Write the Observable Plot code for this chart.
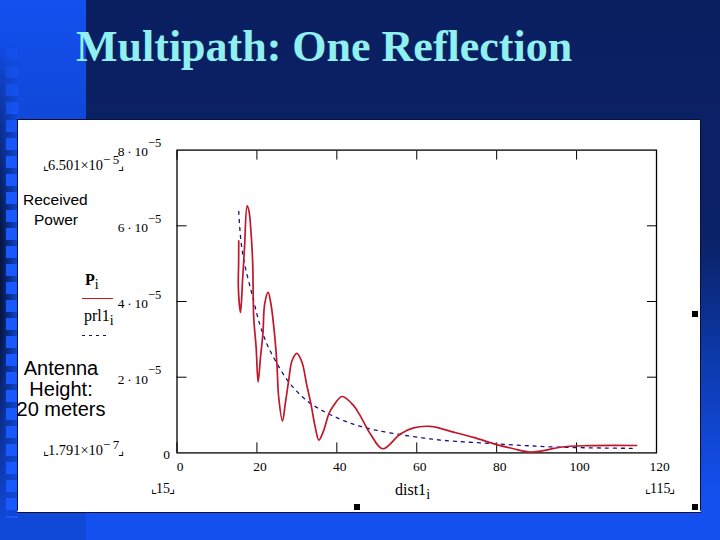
<!DOCTYPE html>
<html><head><meta charset="utf-8">
<script src="https://cdn.jsdelivr.net/npm/d3@7"></script>
<script src="https://cdn.jsdelivr.net/npm/@observablehq/plot@0.6"></script>
<style>
html,body{margin:0;padding:0;width:720px;height:540px;overflow:hidden;background:#1450f0}
#bg{position:absolute;left:0;top:0;width:720px;height:540px;background:linear-gradient(180deg,#0a1f60 0%,#0a2268 45%,#0d3bb0 68%,#1450f0 92%)}
#strip{position:absolute;left:0;top:0;width:86px;height:540px;background:linear-gradient(180deg,#1450f0 0%,#1048d8 22%,#1048d8 100%)}
#gutter{position:absolute;left:0;top:40px;width:20px;height:480px;background:linear-gradient(90deg,#06143f 0%,#0d3bb0 70%,#1450f0 100%);-webkit-mask-image:linear-gradient(180deg,transparent 0%,#000 40%,#000 60%,transparent 100%)}
#squares{position:absolute;left:6px;top:48px;width:12px;height:470px;background:repeating-linear-gradient(180deg,#1a58ff 0,#1a58ff 12px,transparent 12px,transparent 18px);-webkit-mask-image:linear-gradient(180deg,rgba(0,0,0,.25) 0,#000 22%)}
#title{position:absolute;left:76px;top:21px;font:bold 44px "Liberation Serif",serif;color:#90f0f0;white-space:nowrap}
#panel{position:absolute;left:16.5px;top:119px;width:682px;height:390px;background:#fff;border:1px solid #08103a;border-bottom:2px solid #fff;box-shadow:0 1px 0 #08103a}
#chart{position:absolute;left:0;top:0}
.t{position:absolute;white-space:nowrap;color:#000}
.s{font-family:"Liberation Serif",serif}
.a{font-family:"Liberation Sans",sans-serif}
sup,sub{line-height:0}
.c{margin:0 -1px;font-size:13px}
.h{position:absolute;width:6px;height:6px;background:#000}
.sw{position:absolute;left:82px;height:1px}
</style></head><body>
<div id="bg"></div><div id="strip"></div><div id="gutter"></div><div id="squares"></div>
<div id="title">Multipath: One Reflection</div>
<div id="panel"></div>
<div id="chart"></div>
<div class="t s" style="left:44px;top:157px;font-size:14.4px"><span class="c">⌞</span>6.501×10<sup style="font-size:13px">&#8722;&#8201;5</sup><span class="c">⌟</span></div>
<div class="t a" style="left:23px;top:191px;font-size:15.5px">Received</div>
<div class="t a" style="left:34px;top:211px;font-size:15.5px">Power</div>
<div class="t s" style="left:85px;top:271px;font-size:16px"><b>P</b><sub style="font-size:14px">i</sub></div>
<div class="sw" style="top:298px;width:31px;background:#d01818"></div>
<div class="t s" style="left:84px;top:307px;font-size:16px">prl1<sub style="font-size:14px">i</sub></div>
<div class="sw" style="top:335px;width:26px;background:repeating-linear-gradient(90deg,#101060 0,#101060 3px,transparent 3px,transparent 7px)"></div>
<div class="t a" style="left:15px;top:358px;width:92px;text-align:center;font-size:20px;line-height:20.5px">Antenna<br>Height:<br>20 meters</div>
<div class="t s" style="left:44px;top:442px;font-size:14.4px"><span class="c">⌞</span>1.791×10<sup style="font-size:13px">&#8722;&#8201;7</sup><span class="c">⌟</span></div>
<div class="t s" style="left:152px;top:481px;font-size:14px"><span class="c">⌞</span>15<span class="c">⌟</span></div>
<div class="t s" style="left:395px;top:481px;font-size:16px">dist1<sub style="font-size:14px">i</sub></div>
<div class="t s" style="left:646px;top:481px;font-size:14px"><span class="c">⌞</span>115<span class="c">⌟</span></div>
<div class="h" style="left:692px;top:311px"></div>
<div class="h" style="left:354px;top:504px"></div>
<div class="h" style="left:692px;top:504px"></div>
<script>
const receivedX = [15.45,15.42,15.35,15.9,16.4,16.9,17.55,18.0,18.55,18.95,19.2,19.8,20.3,20.9,21.5,21.95,22.8,23.5,24.4,25,25.45,26.4,27.1,27.95,28.8,30,31.3,32.4,33.5,34.6,35.5,36.7,38,39.2,41.3,44.2,45.7,48.4,51.5,55.9,59.2,63.4,69.2,74.2,80,84.2,88.4,91.7,95.9,102.5,115];
const receivedY = [56,50,43.7,37.1,45.5,54.3,65.3,64,57.9,50,35.8,27.9,18.7,25.3,31.5,39.4,42.4,39.4,31.5,23.6,14.7,8.4,13,19.1,24.4,26.3,23.9,18.3,13,6.8,3.4,5.9,10.3,12.5,14.9,12.5,10.1,5,1.1,5,6.6,7,5.5,4.1,2.2,1.1,0.2,0.6,1.5,1.9,1.95];
const directX = [15.45,16,16.9,19,20.7,22.5,24.6,28,32.5,38,45.9,63.4,80,96,115];
const directY = [63.8,56,50,41,34,28.8,24.4,18.7,13.8,10.3,7,3.7,2.4,1.5,1.2];
const xTicks = [0,20,40,60,80,100,120];
const yTicks = [2e-5,4e-5,6e-5,8e-5];
const yZero = [0];
const received = receivedX.map((x,i)=>({x,y:receivedY[i]*1e-6}));
const direct = directX.map((x,i)=>({x,y:directY[i]*1e-6}));
const mant = d => `${Math.round(d*1e5)}\u2009·\u200910`;
const serif = "Liberation Serif";
const chart = Plot.plot({
  width:720,height:540,marginLeft:176.5,marginRight:64,marginTop:149.6,marginBottom:87.6,
  style:{background:"transparent",color:"#000",overflow:"visible"},
  x:{domain:[0,120]},y:{domain:[0,8e-5]},
  marks:[
    Plot.frame({stroke:"#000",strokeWidth:1.3}),
    Plot.axisX({ticks:xTicks,anchor:"bottom",tickSize:0,tickPadding:0,tickFormat:d=>String(d),dy:9,dx:3,fontSize:13.5,fontFamily:serif,label:null}),
    Plot.axisX({ticks:xTicks,anchor:"bottom",tickSize:-10,text:null,label:null}),
    Plot.axisX({ticks:xTicks,anchor:"top",tickSize:-9,text:null,label:null}),
    Plot.axisY({ticks:yTicks,anchor:"left",tickSize:0,tickPadding:0,tickFormat:mant,dx:-29,dy:2,fontSize:13.5,fontFamily:serif,label:null}),
    Plot.axisY({ticks:yTicks,anchor:"left",tickSize:0,tickPadding:0,tickFormat:()=>"\u22125",dx:-29,dy:-7,fontSize:12.5,fontFamily:serif,textAnchor:"start",label:null}),
    Plot.axisY({ticks:yZero,anchor:"left",tickSize:0,tickPadding:0,tickFormat:()=>"0",dx:-7,dy:2,fontSize:13.5,fontFamily:serif,label:null}),
    Plot.axisY({ticks:yTicks.slice(0,3),anchor:"left",tickSize:-10,text:null,label:null}),
    Plot.axisY({ticks:yTicks.slice(0,3),anchor:"right",tickSize:-10,text:null,label:null}),
    Plot.line(direct,{x:"x",y:"y",stroke:"#1a1080",strokeWidth:1.3,strokeDasharray:"3 5",curve:"catmull-rom"}),
    Plot.line(received,{x:"x",y:"y",stroke:"#c0182a",strokeWidth:1.7,curve:"catmull-rom"})
  ]
});
document.getElementById("chart").appendChild(chart);
</script>
</body></html>
